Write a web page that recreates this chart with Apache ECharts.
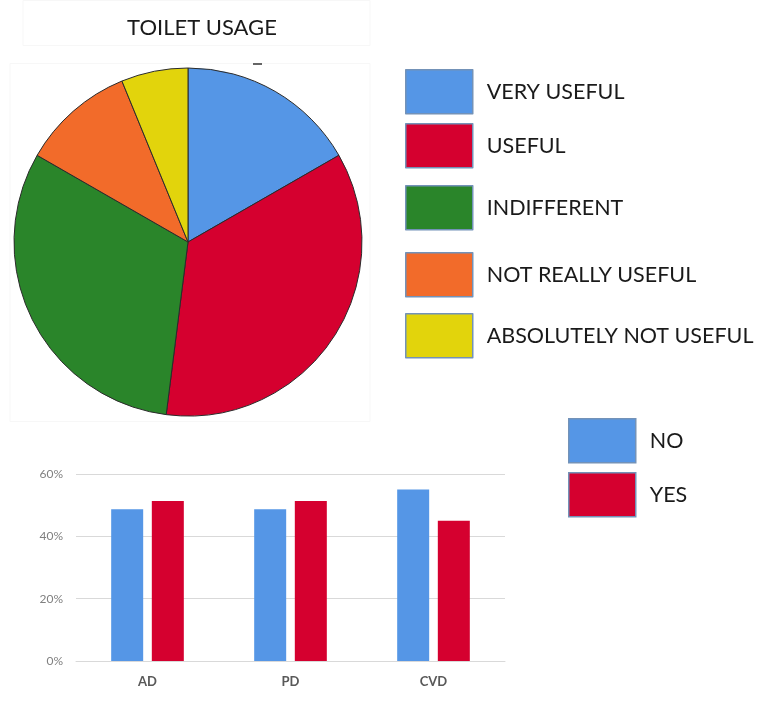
<!DOCTYPE html>
<html>
<head>
<meta charset="utf-8">
<title>Toilet usage</title>
<script src="https://cdn.jsdelivr.net/npm/echarts@6/dist/echarts.min.js"></script>
<style>
  html, body { margin: 0; padding: 0; background: #fff; }
  #chart { width: 761px; height: 725px; }
</style>
</head>
<body>
<div id="chart"></div>
<script>
// Opinion on toilet usage (share of answers, %)
const usageCategories = ['VERY USEFUL', 'USEFUL', 'INDIFFERENT', 'NOT REALLY USEFUL', 'ABSOLUTELY NOT USEFUL'];
const usageValues = [16.7, 35.3, 31.3, 10.5, 6.2];
const usageColors = ['#5596E6', '#D5002F', '#2A852A', '#F26B2A', '#E2D40C'];

// Answers by diagnosis group (%)
const groups = ['AD', 'PD', 'CVD'];
const noValues = [48.7, 48.7, 55.0];
const yesValues = [51.3, 51.3, 45.0];
const yTicks = [0, 20, 40, 60];

const FONT = 'Lato, "Liberation Sans", sans-serif';
const chart = echarts.init(document.getElementById('chart'), null, { renderer: 'canvas' });

// One single-item legend per row so each row can sit at its own height
const pieLegendTops = [69, 123, 185, 252, 313];
const barLegendTops = [418, 472];
const legendBase = {
  orient: 'vertical',
  icon: 'rect',
  itemWidth: 67,
  itemHeight: 44,
  padding: 0,
  selectedMode: false,
  itemStyle: { borderColor: '#7392b8', borderWidth: 1.5 },
  textStyle: { fontFamily: FONT, fontSize: 21.5, color: '#1a1a1a', padding: [0, 0, 0, 9] }
};
const legends = [];
usageCategories.forEach((name, i) => {
  legends.push(Object.assign({}, legendBase, { left: 405, top: pieLegendTops[i], data: [name] }));
});
['NO', 'YES'].forEach((name, i) => {
  legends.push(Object.assign({}, legendBase, { left: 568, top: barLegendTops[i], data: [name] }));
});

chart.setOption({
  animation: false,
  backgroundColor: '#fff',
  title: {
    text: 'TOILET USAGE',
    left: 197,
    textAlign: 'center',
    top: 12,
    textStyle: { fontFamily: FONT, fontSize: 22, fontWeight: 'normal', color: '#1a1a1a' }
  },
  legend: legends,
  graphic: [
    { type: 'rect', shape: { x: 23, y: 0.5, width: 347, height: 45 }, style: { fill: 'none', stroke: '#f7f7f7', lineWidth: 1 }, silent: true },
    { type: 'rect', shape: { x: 10, y: 63.5, width: 360, height: 358 }, style: { fill: 'none', stroke: '#f7f7f7', lineWidth: 1 }, silent: true },
    { type: 'line', shape: { x1: 253, y1: 64, x2: 262, y2: 64 }, style: { stroke: '#333', lineWidth: 1.5 }, silent: true }
  ],
  grid: { left: 76, right: 256, top: 474, bottom: 64, containLabel: false },
  xAxis: {
    type: 'category',
    data: groups,
    axisTick: { show: false },
    axisLine: { lineStyle: { color: '#d9d9d9', width: 1 } },
    axisLabel: { fontFamily: FONT, fontSize: 13, fontWeight: 'bold', color: '#595959', margin: 14 }
  },
  yAxis: {
    type: 'value',
    min: yTicks[0],
    max: yTicks[yTicks.length - 1],
    interval: 20,
    axisLine: { show: false },
    axisTick: { show: false },
    splitLine: { lineStyle: { color: '#d9d9d9', width: 1 } },
    axisLabel: { fontFamily: FONT, fontSize: 12, color: '#808080', margin: 13, formatter: '{value}%' }
  },
  series: [
    {
      type: 'pie',
      center: [188, 242],
      radius: 174,
      startAngle: 90,
      clockwise: true,
      label: { show: false },
      labelLine: { show: false },
      emphasis: { disabled: true },
      itemStyle: { borderColor: '#2b2b2b', borderWidth: 1 },
      data: usageCategories.map((name, i) => ({
        name: name,
        value: usageValues[i],
        itemStyle: { color: usageColors[i] }
      }))
    },
    {
      name: 'NO',
      type: 'bar',
      data: noValues,
      barWidth: 32,
      barGap: '27%',
      itemStyle: { color: '#5596E6' }
    },
    {
      name: 'YES',
      type: 'bar',
      data: yesValues,
      barWidth: 32,
      barGap: '27%',
      itemStyle: { color: '#D5002F' }
    }
  ]
});
</script>
</body>
</html>
